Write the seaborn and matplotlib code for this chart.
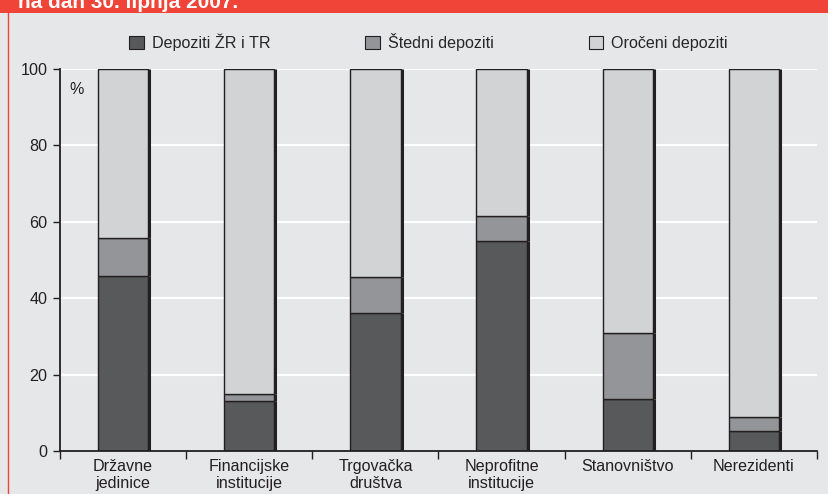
import matplotlib
matplotlib.use("Agg")
import matplotlib.pyplot as plt
import matplotlib.patches as mpatches
import seaborn as sns
import pandas as pd
import numpy as np

categories = ["Državne\njedinice", "Financijske\ninstitucije", "Trgovačka\ndruštva",
              "Neprofitne\ninstitucije", "Stanovništvo", "Nerezidenti"]
depoziti_zr_tr = [45.8, 13.2, 36.2, 54.9, 13.6, 5.2]
stedni = [9.9, 1.7, 9.3, 6.6, 17.4, 3.8]
oroceni = [44.3, 85.1, 54.5, 38.5, 69.0, 91.0]
series_names = ["Depoziti ŽR i TR", "Štedni depoziti", "Oročeni depoziti"]
title_text = "na dan 30. lipnja 2007."
yticks = [0, 20, 40, 60, 80, 100]

colors = ["#58595b", "#939598", "#d1d3d4"]
bg = "#e6e7e9"
edge = "#231f20"
red = "#f04438"
fs = 11.6

sns.set_theme(style="white")
plt.rcParams['font.family'] = ['Liberation Sans', 'DejaVu Sans']

fig = plt.figure(figsize=(8.29, 4.94), dpi=100, facecolor=bg)
ax = fig.add_axes([60/829, 1-451/494, (817-60)/829, (451-69)/494])
ax.set_facecolor(bg)

df = pd.DataFrame({"cat": categories, "a": depoziti_zr_tr, "b": stedni, "c": oroceni})
bottoms = np.zeros(len(categories))
for col, c in zip(["a", "b", "c"], colors):
    sns.barplot(data=df, x="cat", y=col, color=c, width=0.4, bottom=bottoms,
                edgecolor=edge, linewidth=1.0, saturation=1, ax=ax, zorder=3)
    bottoms = bottoms + df[col].values

# thicker right edge (shadow)
for p in ax.patches:
    x1 = p.get_x() + p.get_width()
    ax.plot([x1 + 0.008, x1 + 0.008], [p.get_y(), p.get_y() + p.get_height()],
            color=edge, lw=2.2, zorder=4, solid_capstyle='butt')

ax.set_ylim(0, 100)
ax.set_xlim(-0.5, len(categories) - 0.5)
ax.set_yticks(yticks)
ax.set_yticklabels([str(v) for v in yticks], fontsize=fs, color="#231f20")
for v in yticks[1:]:
    ax.axhline(v, color="white", lw=1.5, zorder=1)

ax.set_xticks(range(len(categories)))
ax.set_xticklabels(categories, fontsize=fs, color="#231f20", linespacing=1.15)
ax.set_xticks(np.arange(-0.5, len(categories), 1.0), minor=True)
ax.tick_params(axis='x', which='major', length=0, pad=6)
ax.tick_params(axis='x', which='minor', length=6, width=1, color=edge, direction='out', bottom=True)
ax.tick_params(axis='y', length=5, width=1, color=edge, direction='out', left=True, pad=4)
ax.set_xlabel("")
ax.set_ylabel("")
for s in ["top", "right"]:
    ax.spines[s].set_visible(False)
for s in ["left", "bottom"]:
    ax.spines[s].set_color(edge)
    ax.spines[s].set_linewidth(1.3)
    ax.spines[s].set_zorder(5)

ax.text(0.012, 0.965, "%", transform=ax.transAxes, fontsize=fs, color="#231f20",
        ha="left", va="top")

# legend
handles = [mpatches.Patch(facecolor=c, edgecolor=edge, linewidth=0.8, label=n)
           for c, n in zip(colors, series_names)]
fig.legend(handles=handles, loc="center", bbox_to_anchor=(0.517, 1-42/494), ncol=3,
           frameon=False, fontsize=fs, handlelength=0.9, handleheight=0.9,
           handletextpad=0.5, columnspacing=5.9)

# title bar
fig.patches.append(mpatches.Rectangle((0, 1-13/494), 1, 13/494, transform=fig.transFigure,
                                      facecolor=red, edgecolor="none", zorder=0))
fig.lines.append(plt.Line2D([8.5/829, 8.5/829], [0, 1], transform=fig.transFigure,
                            color=red, lw=1))
fig.text(18/829, 1-8/494, title_text, color="white", fontsize=15, fontweight="bold",
         ha="left", va="baseline")

fig.savefig("out.png", dpi=100, facecolor=bg)
